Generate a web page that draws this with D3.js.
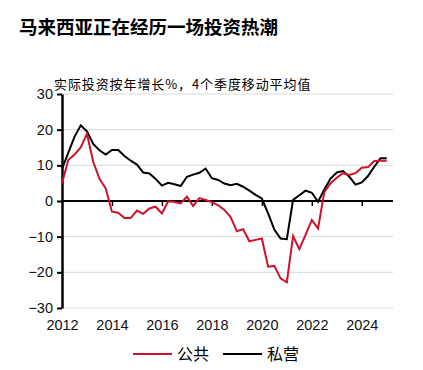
<!DOCTYPE html>
<html>
<head>
<meta charset="utf-8">
<script src="https://cdn.jsdelivr.net/npm/d3@7"></script>
<style>
  body { margin: 0; background: #fff; }
  svg text { font-family: "Liberation Sans", Arial, sans-serif; }
  .cjk { font-family: "Noto Sans CJK SC", sans-serif; }
</style>
</head>
<body>
<script>
// quarterly, 4-quarter moving average, 2012Q1 .. 2025Q1
var startYear = 2012;
var publicInv = [5, 11.5, 13, 15, 18.8, 11, 6.2, 3.5, -3, -3.3,
  -4.8, -4.8, -2.7, -3.6, -2.1, -1.6, -3.5, -0.1, -0.3, -0.7,
  1.2, -1.4, 0.8, 0.3, -0.3, -1.2, -2.5, -4.5, -8.5, -7.9,
  -11.3, -10.9, -10.5, -18.4, -18.2, -21.7, -22.8, -9.8, -13.5, -9.5,
  -5.3, -7.7, 2.5, 5, 6.5, 7.8, 7.3, 7.8, 9.3, 9.5,
  11.2, 11.3, 11.3];
var privateInv = [9, 13.5, 18, 21.2, 19.5, 16, 14.2, 13, 14.3, 14.3,
  12.6, 11.3, 10.2, 8, 7.7, 6.2, 4.3, 5.1, 4.7, 4.2,
  6.8, 7.4, 7.9, 9.1, 6.4, 5.9, 4.9, 4.4, 4.8, 4,
  2.9, 1.7, 0.7, -3.5, -8, -10.5, -10.7, 0.3, 1.6, 2.9,
  2.3, -0.2, 3.2, 6.3, 8, 8.4, 6.8, 4.6, 5.2, 7,
  9.6, 12, 12];
var yTicks = [-30, -20, -10, 0, 10, 20, 30];
var xTicks = [2012, 2014, 2016, 2018, 2020, 2022, 2024];
var seriesNames = ["公共", "私营"];
var seriesColors = ["#d0112b", "#000000"];

var W = 423, H = 370;
var svg = d3.select("body").append("svg")
    .attr("width", W)
    .attr("height", H);

var x = d3.scaleLinear().domain([2012, 2025.25]).range([62, 393]);
var y = d3.scaleLinear().domain([-30, 30]).range([308, 94]);

// title + subtitle
svg.append("text")
    .attr("class", "cjk")
    .attr("x", 19).attr("y", 34)
    .style("font-size", "18.5px")
    .style("font-weight", "bold")
    .text("马来西亚正在经历一场投资热潮");

svg.append("text")
    .attr("class", "cjk")
    .attr("x", 54).attr("y", 89)
    .style("font-size", "13px")
    .style("letter-spacing", "0.9px")
    .text("实际投资按年增长%，4个季度移动平均值");

// gridlines
svg.append("g").selectAll("line")
    .data(yTicks.filter(d => d !== 0))
    .enter().append("line")
    .attr("x1", 62).attr("x2", 393)
    .attr("y1", d => y(d)).attr("y2", d => y(d))
    .style("stroke", "#d9d9d9")
    .style("stroke-width", 1);

// y axis
var yAxis = svg.append("g")
    .attr("transform", "translate(62,0)")
    .call(d3.axisLeft(y).tickValues(yTicks).tickSize(5).tickSizeOuter(0).tickFormat(d3.format("d")));
yAxis.select(".domain").style("stroke-width", 2.5);
yAxis.selectAll(".tick line").style("stroke-width", 2);
yAxis.selectAll("text").style("font-size", "14.5px").attr("x", -9).style("fill", "#111");

// x ticks on the zero line
var xZero = svg.append("g")
    .attr("transform", "translate(0," + y(0) + ")")
    .call(d3.axisBottom(x).tickValues(xTicks.slice(1)).tickSize(5).tickFormat(""));
xZero.select(".domain").remove();
xZero.selectAll(".tick line").style("stroke-width", 1.5);

svg.append("line")
    .attr("x1", 62).attr("x2", 393)
    .attr("y1", y(0)).attr("y2", y(0))
    .style("stroke", "#000")
    .style("stroke-width", 2);

// x labels at bottom
var xLab = svg.append("g")
    .attr("transform", "translate(0," + y(-30) + ")")
    .call(d3.axisBottom(x).tickValues(xTicks).tickSize(0).tickFormat(d3.format("d")));
xLab.select(".domain").remove();
xLab.selectAll("text").attr("dy", "1.3em").style("font-size", "14.5px").style("fill", "#111");

// lines
var line = d3.line()
    .x((d, i) => x(startYear + i / 4))
    .y(d => y(d));

[privateInv, publicInv].forEach(function(s, k) {
    svg.append("path")
        .datum(s)
        .attr("d", line)
        .style("fill", "none")
        .style("stroke", k === 0 ? seriesColors[1] : seriesColors[0])
        .style("stroke-width", 2)
        .style("stroke-linejoin", "miter");
});

// legend
var legendX = [133, 223];
seriesNames.forEach(function(n, i) {
    svg.append("line")
        .attr("x1", legendX[i]).attr("x2", legendX[i] + 39)
        .attr("y1", 354).attr("y2", 354)
        .style("stroke", seriesColors[i])
        .style("stroke-width", 2);
    svg.append("text")
        .attr("class", "cjk")
        .attr("x", legendX[i] + 44).attr("y", 360)
        .style("font-size", "16px")
        .text(n);
});
</script>
</body>
</html>
